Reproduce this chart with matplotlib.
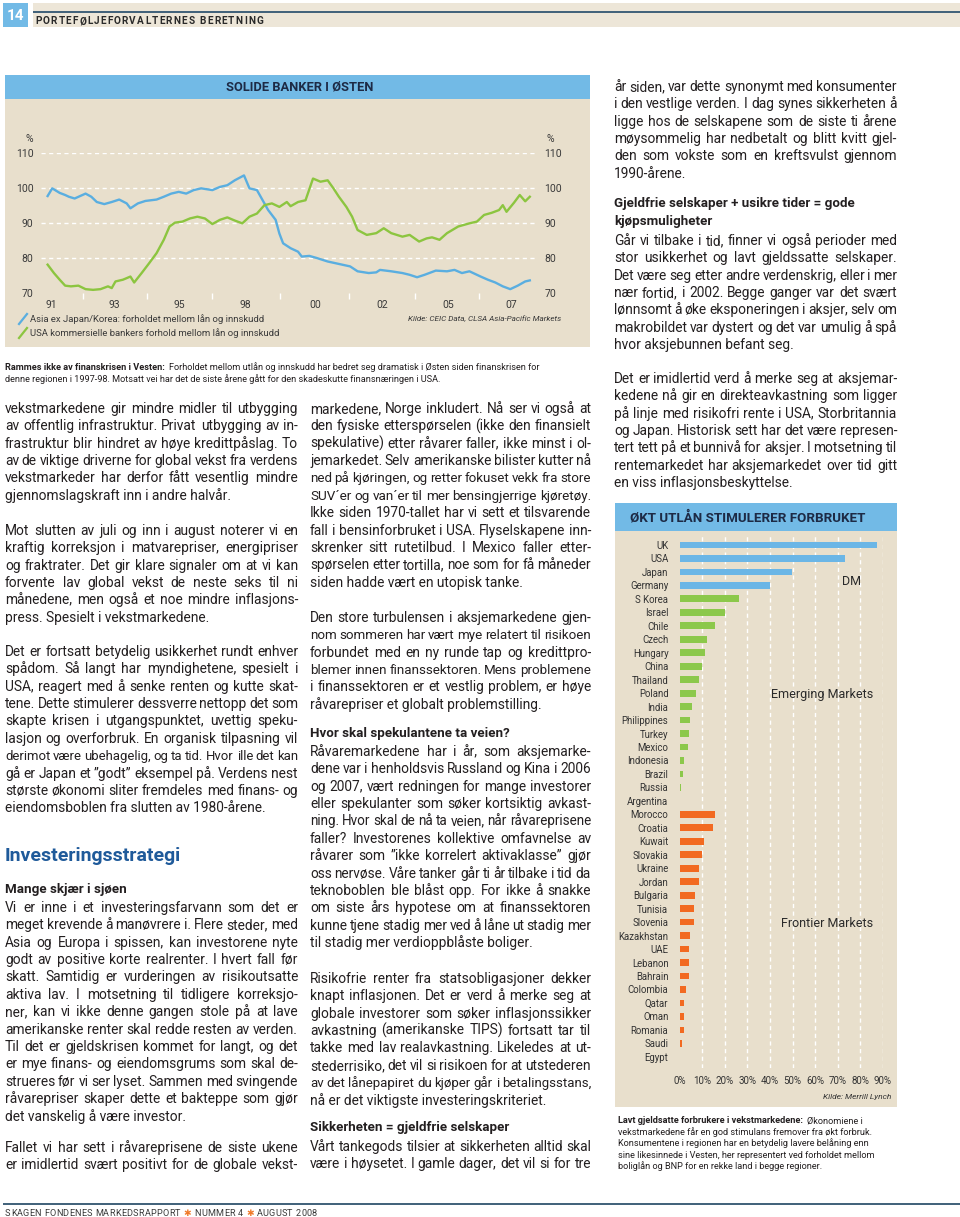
import matplotlib
matplotlib.use('Agg')
import matplotlib.pyplot as plt
from matplotlib.patches import Rectangle
from matplotlib.font_manager import FontProperties

plt.rcParams['font.family'] = ['Roboto', 'DejaVu Sans']
FAM = ['Roboto', 'DejaVu Sans']

# ---------------- data ----------------
asia_years = [1990.88, 1991.04, 1991.30, 1991.49, 1991.62, 1991.82, 1992.01, 1992.20, 1992.40, 1992.59,
              1992.85, 1993.11, 1993.37, 1993.63, 1993.76, 1994.02, 1994.28, 1994.67, 1994.92, 1995.18,
              1995.44, 1995.70, 1995.96, 1996.22, 1996.61, 1996.87, 1997.13, 1997.39, 1997.71, 1997.90,
              1998.16, 1998.29, 1998.55, 1998.81, 1998.94, 1999.07, 1999.33, 1999.59, 1999.72, 1999.98,
              2000.24, 2000.62, 2001.01, 2001.40, 2001.66, 2002.05, 2002.31, 2002.44, 2002.83, 2003.22,
              2003.47, 2003.73, 2003.99, 2004.38, 2004.77, 2005.03, 2005.29, 2005.55, 2005.94, 2006.19,
              2006.45, 2006.71, 2006.97, 2007.23, 2007.49, 2007.65]
asia_ratio = [97.7, 99.9, 98.6, 98.0, 97.5, 97.0, 97.7, 98.4, 97.5, 96.0,
              95.4, 96.0, 96.7, 95.6, 94.2, 95.6, 96.3, 96.7, 97.5, 98.4,
              98.9, 98.4, 99.4, 99.9, 99.4, 100.3, 100.8, 102.2, 103.6, 99.9,
              99.4, 97.5, 93.7, 90.9, 87.0, 84.2, 82.8, 81.8, 80.4, 80.6,
              80.0, 79.0, 78.3, 77.6, 76.2, 75.7, 75.9, 76.6, 76.2, 75.7,
              75.2, 74.5, 75.2, 76.4, 76.2, 76.6, 75.7, 76.2, 74.7, 73.8,
              73.0, 71.9, 71.1, 72.1, 73.3, 73.6]

usa_years = [1990.88, 1991.10, 1991.30, 1991.49, 1991.69, 1991.95, 1992.20, 1992.46, 1992.72, 1992.98,
             1993.11, 1993.24, 1993.50, 1993.76, 1993.89, 1994.15, 1994.41, 1994.67, 1994.92, 1995.12,
             1995.31, 1995.57, 1995.83, 1996.09, 1996.35, 1996.61, 1996.87, 1997.13, 1997.39, 1997.65,
             1997.90, 1998.16, 1998.42, 1998.68, 1998.94, 1999.20, 1999.33, 1999.59, 1999.85, 2000.11,
             2000.37, 2000.62, 2000.82, 2001.01, 2001.27, 2001.47, 2001.66, 2001.98, 2002.31, 2002.57,
             2002.83, 2003.22, 2003.47, 2003.80, 2004.06, 2004.25, 2004.51, 2004.77, 2005.16, 2005.55,
             2005.81, 2006.06, 2006.32, 2006.58, 2006.71, 2006.84, 2007.10, 2007.30, 2007.49, 2007.65]
usa_ratio = [78.1, 75.7, 73.8, 72.1, 71.9, 72.1, 71.1, 70.9, 71.1, 71.9,
             71.4, 73.3, 73.8, 74.7, 73.0, 75.7, 78.5, 81.4, 85.2, 89.0,
             90.1, 90.4, 91.3, 91.8, 91.3, 89.7, 90.9, 91.6, 90.7, 89.9,
             91.8, 92.7, 95.1, 95.6, 94.6, 96.0, 94.8, 96.0, 96.5, 102.7,
             101.8, 102.2, 99.9, 97.5, 94.6, 91.8, 88.0, 86.6, 87.1, 88.5,
             87.1, 86.1, 86.6, 84.7, 85.6, 85.9, 85.2, 87.1, 89.0, 89.9,
             90.4, 92.3, 92.9, 93.7, 95.1, 93.2, 95.8, 98.0, 96.2, 97.5]

line_y_ticks = [70, 80, 90, 100, 110]
line_x_labels = ['91', '93', '95', '98', '00', '02', '05', '07']
line_x_label_years = [1991.0, 1993.2, 1995.45, 1997.75, 2000.2, 2002.5, 2004.8, 2007.0]
line_legend = ['Asia ex Japan/Korea: forholdet mellom lån og innskudd',
               'USA kommersielle bankers forhold mellom lån og innskudd']

dm_countries = ['UK', 'USA', 'Japan', 'Germany']
dm_values = [87.3, 73.2, 49.9, 40.2]
em_countries = ['S Korea', 'Israel', 'Chile', 'Czech', 'Hungary', 'China', 'Thailand', 'Poland', 'India',
                'Philippines', 'Turkey', 'Mexico', 'Indonesia', 'Brazil', 'Russia', 'Argentina']
em_values = [26.5, 20.3, 15.6, 12.1, 11.3, 10.0, 8.8, 7.5, 5.7, 4.7, 4.3, 3.8, 1.8, 1.5, 0.7, 0.3]
fm_countries = ['Morocco', 'Croatia', 'Kuwait', 'Slovakia', 'Ukraine', 'Jordan', 'Bulgaria', 'Tunisia',
                'Slovenia', 'Kazakhstan', 'UAE', 'Lebanon', 'Bahrain', 'Colombia', 'Qatar', 'Oman',
                'Romania', 'Saudi', 'Egypt']
fm_values = [15.6, 14.7, 11.0, 9.9, 8.8, 8.5, 6.8, 6.5, 6.5, 4.7, 4.4, 4.0, 4.0, 2.9, 2.2, 2.2, 2.2, 1.2, 0.0]
bar_x_ticks = [0, 10, 20, 30, 40, 50, 60, 70, 80, 90]

# ---------------- text content ----------------
col1_paras = [
    ["vekstmarkedene gir mindre midler til utbygging",
     "av offentlig infrastruktur. Privat utbygging av in-",
     "frastruktur blir hindret av høye kredittpåslag. To",
     "av de viktige driverne for global vekst fra verdens",
     "vekstmarkeder har derfor fått vesentlig mindre",
     "gjennomslagskraft inn i andre halvår."],
    ["Mot slutten av juli og inn i august noterer vi en",
     "kraftig korreksjon i matvarepriser, energipriser",
     "og fraktrater. Det gir klare signaler om at vi kan",
     "forvente lav global vekst de neste seks til ni",
     "månedene, men også et noe mindre inflasjons-",
     "press. Spesielt i vekstmarkedene."],
    ["Det er fortsatt betydelig usikkerhet rundt enhver",
     "spådom. Så langt har myndighetene, spesielt i",
     "USA, reagert med å senke renten og kutte skat-",
     "tene. Dette stimulerer dessverre nettopp det som",
     "skapte krisen i utgangspunktet, uvettig speku-",
     "lasjon og overforbruk. En organisk tilpasning vil",
     "derimot være ubehagelig, og ta tid. Hvor ille det kan",
     "gå er Japan et ”godt” eksempel på. Verdens nest",
     "største økonomi sliter fremdeles med finans- og",
     "eiendomsboblen fra slutten av 1980-årene."],
    ["Vi er inne i et investeringsfarvann som det er",
     "meget krevende å manøvrere i. Flere steder, med",
     "Asia og Europa i spissen, kan investorene nyte",
     "godt av positive korte realrenter. I hvert fall før",
     "skatt. Samtidig er vurderingen av risikoutsatte",
     "aktiva lav. I motsetning til tidligere korreksjo-",
     "ner, kan vi ikke denne gangen stole på at lave",
     "amerikanske renter skal redde resten av verden.",
     "Til det er gjeldskrisen kommet for langt, og det",
     "er mye finans- og eiendomsgrums som skal de-",
     "strueres før vi ser lyset. Sammen med svingende",
     "råvarepriser skaper dette et bakteppe som gjør",
     "det vanskelig å være investor."],
    ["Fallet vi har sett i råvareprisene de siste ukene",
     "er imidlertid svært positivt for de globale vekst-"],
]
col2_paras = [
    ["markedene, Norge inkludert. Nå ser vi også at",
     "den fysiske etterspørselen (ikke den finansielt",
     "spekulative) etter råvarer faller, ikke minst i ol-",
     "jemarkedet. Selv amerikanske bilister kutter nå",
     "ned på kjøringen, og retter fokuset vekk fra store",
     "SUV´er og van´er til mer bensingjerrige kjøretøy.",
     "Ikke siden 1970-tallet har vi sett et tilsvarende",
     "fall i bensinforbruket i USA. Flyselskapene inn-",
     "skrenker sitt rutetilbud. I Mexico faller etter-",
     "spørselen etter tortilla, noe som for få måneder",
     "siden hadde vært en utopisk tanke."],
    ["Den store turbulensen i aksjemarkedene gjen-",
     "nom sommeren har vært mye relatert til risikoen",
     "forbundet med en ny runde tap og kredittpro-",
     "blemer innen finanssektoren. Mens problemene",
     "i finanssektoren er et vestlig problem, er høye",
     "råvarepriser et globalt problemstilling."],
    ["Råvaremarkedene har i år, som aksjemarke-",
     "dene var i henholdsvis Russland og Kina i 2006",
     "og 2007, vært redningen for mange investorer",
     "eller spekulanter som søker kortsiktig avkast-",
     "ning. Hvor skal de nå ta veien, når råvareprisene",
     "faller? Investorenes kollektive omfavnelse av",
     "råvarer som ”ikke korrelert aktivaklasse” gjør",
     "oss nervøse. Våre tanker går ti år tilbake i tid da",
     "teknoboblen ble blåst opp. For ikke å snakke",
     "om siste års hypotese om at finanssektoren",
     "kunne tjene stadig mer ved å låne ut stadig mer",
     "til stadig mer verdioppblåste boliger."],
    ["Risikofrie renter fra statsobligasjoner dekker",
     "knapt inflasjonen. Det er verd å merke seg at",
     "globale investorer som søker inflasjonssikker",
     "avkastning (amerikanske TIPS) fortsatt tar til",
     "takke med lav realavkastning. Likeledes at ut-",
     "stederrisiko, det vil si risikoen for at utstederen",
     "av det lånepapiret du kjøper går i betalingsstans,",
     "nå er det viktigste investeringskriteriet."],
    ["Vårt tankegods tilsier at sikkerheten alltid skal",
     "være i høysetet. I gamle dager, det vil si for tre"],
]
col3_paras = [
    ["år siden, var dette synonymt med konsumenter",
     "i den vestlige verden. I dag synes sikkerheten å",
     "ligge hos de selskapene som de siste ti årene",
     "møysommelig har nedbetalt og blitt kvitt gjel-",
     "den som vokste som en kreftsvulst gjennom",
     "1990-årene."],
    ["Går vi tilbake i tid, finner vi også perioder med",
     "stor usikkerhet og lavt gjeldssatte selskaper.",
     "Det være seg etter andre verdenskrig, eller i mer",
     "nær fortid, i 2002. Begge ganger var det svært",
     "lønnsomt å øke eksponeringen i aksjer, selv om",
     "makrobildet var dystert og det var umulig å spå",
     "hvor aksjebunnen befant seg."],
    ["Det er imidlertid verd å merke seg at aksjemar-",
     "kedene nå gir en direkteavkastning som ligger",
     "på linje med risikofri rente i USA, Storbritannia",
     "og Japan. Historisk sett har det være represen-",
     "tert tett på et bunnivå for aksjer. I motsetning til",
     "rentemarkedet har aksjemarkedet over tid gitt",
     "en viss inflasjonsbeskyttelse."],
]

# ---------------- layout helpers ----------------
W, H = 960, 1217
fig = plt.figure(figsize=(9.6, 12.17), dpi=100)
fig.patch.set_facecolor('white')
bg = fig.add_axes([0, 0, 1, 1])
bg.set_xlim(0, W)
bg.set_ylim(H, 0)
bg.axis('off')
bg.set_zorder(0)
R = fig.canvas.get_renderer()

TXT = '#231f20'
BEIGE = '#e8dfcc'
BAND = '#72bae6'
NAVY = '#1d2a45'
SLATE = '#3f6079'
BODY_FS = 9.9
MIN_GAP = 2.6


def fax(x0, y0, x1, y1):
    a = fig.add_axes([x0 / W, 1 - y1 / H, (x1 - x0) / W, (y1 - y0) / H])
    a.set_zorder(2)
    a.patch.set_visible(False)
    return a


def fp_(fs, weight='normal', style='normal'):
    return FontProperties(family=FAM, size=fs, weight=weight, style=style)


def tw(s, fp):
    return R.get_text_width_height_descent(s, fp, ismath=False)[0]


def put(x, y, s, fs, weight='normal', color=TXT, style='normal', ha='left', va='baseline'):
    return bg.text(x, y, s, fontproperties=fp_(fs, weight, style), color=color, ha=ha, va=va)


def fit_fs(s, width, fs):
    words = s.split(' ')
    fp = fp_(fs)
    need = sum(tw(w, fp) for w in words) + MIN_GAP * (len(words) - 1)
    return min(fs, fs * width / need)


def justified(x, y, s, width, fs, color=TXT):
    fs = fit_fs(s, width, fs)
    fp = fp_(fs)
    words = s.split(' ')
    ws = [tw(w, fp) for w in words]
    gap = (width - sum(ws)) / (len(words) - 1)
    cx = x
    for w, ww in zip(words, ws):
        bg.text(cx, y, w, fontproperties=fp, color=color, ha='left', va='baseline')
        cx += ww + gap


def column_fs(paras, width):
    fits = sorted(fit_fs(s, width, BODY_FS) for p in paras for s in p)
    return fits[int(len(fits) * 0.2)]


def paragraph(x, ytop, lines, width, fs, lh=17.4, justify_last=False):
    for i, s in enumerate(lines):
        yb = ytop + i * lh + 3.8
        if i < len(lines) - 1 or justify_last:
            justified(x, yb, s, width, fs)
        else:
            put(x, yb, s, fit_fs(s, width, fs))


def tracked(x, y, s, fs, weight, x_end, colors):
    fp = fp_(fs, weight)
    sp = fs * 100 / 72 * 0.28
    ws = [sp if c == ' ' else tw(c, fp) for c in s]
    t = (x_end - x - sum(ws)) / (len(s) - 1)
    cx = x
    for c, w, col in zip(s, ws, colors):
        if c != ' ':
            bg.text(cx, y, c, fontproperties=fp, color=col, ha='left', va='baseline')
        cx += w + t


def lead_caption(x, y, bold, rest, fs):
    put(x, y, bold, fs, 'bold')
    w = tw(bold + ' ', fp_(fs, 'bold'))
    put(x + w + 2, y, rest, fs)

# ---------------- header / footer ----------------
bg.add_patch(Rectangle((3, 3), 25, 24, color=BAND, lw=0))
put(15.5, 16, '14', 11, 'bold', 'white', ha='center', va='center')
bg.add_patch(Rectangle((33, 3), W - 33, 24, color='#ede6d8', lw=0))
bg.plot([33, W], [12, 12], color=SLATE, lw=1.4, solid_capstyle='butt')
head = 'PORTEFØLJEFORVALTERNES BERETNING'
tracked(35, 24.5, head, 7.2, 'bold', 263, ['#2a2a2a'] * len(head))

bg.plot([3, W], [1204, 1204], color=SLATE, lw=1.4, solid_capstyle='butt')
foot = 'SKAGEN FONDENES MARKEDSRAPPORT ✱ NUMMER 4 ✱ AUGUST 2008'
tracked(5, 1215.5, foot, 6.6, 'normal', 317,
        ['#f07a2a' if c == '✱' else '#3a3a3a' for c in foot])

# ---------------- top chart ----------------
bg.add_patch(Rectangle((5, 75), 585, 272, color=BEIGE, lw=0))
bg.add_patch(Rectangle((5, 75), 585, 24, color=BAND, lw=0))
put(300, 87, 'SOLIDE BANKER I ØSTEN', 9.3, 'bold', NAVY, ha='center', va='center')

ax = fax(41, 153, 537, 293)
ax.set_xlim(1990.65, 2007.90)
ax.set_ylim(70, 110)
for s in ax.spines.values():
    s.set_visible(False)
for v in line_y_ticks[1:]:
    ax.axhline(v, color='white', lw=1.0, ls=(0, (3, 2.5)), zorder=1)
ax.plot(asia_years, asia_ratio, color='#5aaee0', lw=1.7, zorder=3, clip_on=False)
ax.plot(usa_years, usa_ratio, color='#8cc540', lw=1.7, zorder=3, clip_on=False)
ax.set_yticks(line_y_ticks)
ax.set_yticklabels([str(v) for v in line_y_ticks])
ax.tick_params(axis='y', length=0, labelleft=True, labelright=True, labelsize=7.5,
               labelcolor='#3a3a3a', pad=5.5)
ax.set_xticks(line_x_label_years)
ax.set_xticklabels(line_x_labels)
mids = [(a + b) / 2 for a, b in zip(line_x_label_years[:-1], line_x_label_years[1:])]
ax.set_xticks(mids, minor=True)
ax.tick_params(axis='x', which='major', length=0, labelsize=7.5, labelcolor='#3a3a3a', pad=5)
ax.tick_params(axis='x', which='minor', length=4, width=1, color='white', direction='out')
put(29, 139, '%', 7.5, color='#3a3a3a', ha='center', va='center')
put(550, 139, '%', 7.5, color='#3a3a3a', ha='center', va='center')

for i, (lab, col) in enumerate(zip(line_legend, ['#5aaee0', '#8cc540'])):
    yc = 319 + 14 * i
    bg.plot([19, 27], [yc + 5, yc - 5], color=col, lw=1.6)
    put(30, yc, lab, 6.8, color='#3a3a3a', va='center')
put(561, 319, 'Kilde: CEIC Data, CLSA Asia-Pacific Markets', 5.9, color='#3a3a3a',
    style='italic', ha='right', va='center')

lead_caption(5, 369.5, 'Rammes ikke av finanskrisen i Vesten:',
             'Forholdet mellom utlån og innskudd har bedret seg dramatisk i Østen siden finanskrisen for', 6.6)
put(5, 381.5, 'denne regionen i 1997-98. Motsatt vei har det de siste årene gått for den skadeskutte '
    'finansnæringen i USA.', 6.6)

# ---------------- bar chart ----------------
bg.add_patch(Rectangle((615, 503), 282, 604, color=BEIGE, lw=0))
bg.add_patch(Rectangle((615, 503), 282, 28, color=BAND, lw=0))
put(748, 518, 'ØKT UTLÅN STIMULERER FORBRUKET', 9.6, 'bold', NAVY, ha='center', va='center')

countries = dm_countries + em_countries + fm_countries
values = dm_values + em_values + fm_values
colors = (['#6bb6e6'] * len(dm_countries) + ['#8cc84b'] * len(em_countries)
          + ['#f26a21'] * len(fm_countries))
n = len(countries)
bx = fax(679.5, 535, 883, 1068)
for v in bar_x_ticks[1:]:
    bx.axvline(v, color='white', lw=1.0, ls=(0, (3, 2.5)), zorder=1)
bx.barh(range(n), values, height=0.5, color=colors, zorder=3)
bx.set_xlim(0, 90)
bx.set_ylim(38.83, -0.74)
for s in bx.spines.values():
    s.set_visible(False)
bx.set_yticks(range(n))
bx.set_yticklabels(countries)
bx.set_xticks(bar_x_ticks)
bx.set_xticklabels([f'{v}%' for v in bar_x_ticks])
bx.tick_params(axis='y', length=0, labelsize=6.9, labelcolor='#333333', pad=8)
bx.tick_params(axis='x', length=0, labelsize=7.0, labelcolor='#333333', pad=6)
bx.text(0.843, 0.912, 'DM', transform=bx.transAxes, fontsize=9, color='#2a2a2a',
        ha='center', va='center')
bx.text(0.70, 0.70, 'Emerging Markets', transform=bx.transAxes, fontsize=9, color='#2a2a2a',
        ha='center', va='center')
bx.text(0.725, 0.272, 'Frontier Markets', transform=bx.transAxes, fontsize=9, color='#2a2a2a',
        ha='center', va='center')
put(891, 1097, 'Kilde: Merrill Lynch', 6.0, color='#333333', style='italic', ha='right', va='center')

lead_caption(618, 1123, 'Lavt gjeldsatte forbrukere i vekstmarkedene:', 'Økonomiene i', 6.6)
cap_lines = ['vekstmarkedene får en god stimulans fremover fra økt forbruk.',
             'Konsumentene i regionen har en betydelig lavere belåning enn',
             'sine likesinnede i Vesten, her representert ved forholdet mellom',
             'boliglån og BNP for en rekke land i begge regioner.']
for i, s in enumerate(cap_lines):
    put(618, 1123 + 11.6 * (i + 1), s, 6.6)

# ---------------- body text ----------------
C1X, C1W = 5, 293
C2X, C2W = 310, 281
C3X, C3W = 614, 283
fs1 = column_fs(col1_paras, C1W)
fs2 = column_fs(col2_paras, C2W)
fs3 = column_fs(col3_paras, C3W)

col1_starts = [409, 531, 652, 908, 1148]
for k, (ys, lines) in enumerate(zip(col1_starts, col1_paras)):
    paragraph(C1X, ys, lines, C1W, fs1, justify_last=(k == len(col1_paras) - 1))
put(C1X, 861, 'Investeringsstrategi', 14, 'bold', '#1f5a9a')
put(C1X, 892.5, 'Mange skjær i sjøen', 9.6, 'bold')

col2_starts = [409, 618, 752, 979, 1147]
for k, (ys, lines) in enumerate(zip(col2_starts, col2_paras)):
    paragraph(C2X, ys, lines, C2W, fs2, justify_last=(k == len(col2_paras) - 1))
put(C2X, 737.5, 'Hvor skal spekulantene ta veien?', 9.6, 'bold')
put(C2X, 1131.5, 'Sikkerheten = gjeldfrie selskaper', 9.6, 'bold')

col3_starts = [87, 241, 379]
for ys, lines in zip(col3_starts, col3_paras):
    paragraph(C3X, ys, lines, C3W, fs3)
put(C3X, 207.5, 'Gjeldfrie selskaper + usikre tider = gode', 9.6, 'bold')
put(C3X, 224.5, 'kjøpsmuligheter', 9.6, 'bold')

fig.savefig('out.png', dpi=100, facecolor='white')
